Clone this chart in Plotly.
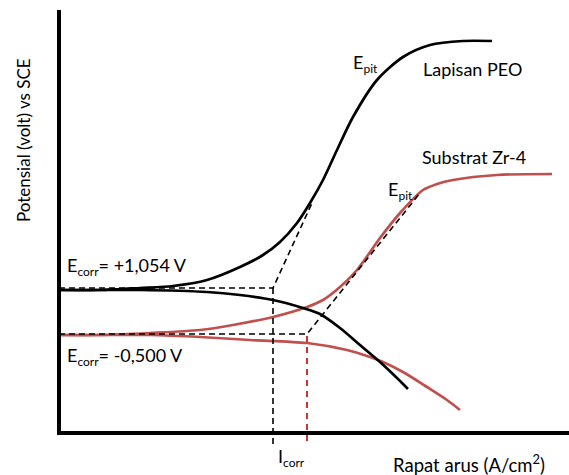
import plotly.graph_objects as go

H = 475
# Curve points (x, potential-pixel from top)
peo_anodic_x = [59, 100, 140, 173, 207, 240, 263, 280, 297, 310, 323, 337, 353, 377, 403, 430, 463, 492]
peo_anodic_y = [290, 290, 288, 286, 280, 267, 255, 242, 223, 203, 180, 150, 117, 80, 57, 45, 41, 41]

peo_cathodic_x = [59, 100, 140, 207, 240, 273, 303, 320, 340, 360, 380, 397, 408]
peo_cathodic_y = [290, 290, 290, 292, 295, 300, 308, 314, 328, 345, 362, 378, 389]

zr_anodic_x = [59, 100, 150, 200, 233, 273, 307, 323, 340, 357, 380, 400, 423, 437, 453, 497, 552]
zr_anodic_y = [335, 335, 333, 330, 325, 317, 307, 300, 287, 270, 238, 213, 190, 184, 180, 175, 174]

zr_cathodic_x = [59, 100, 150, 200, 250, 307, 347, 370, 383, 403, 427, 447, 460]
zr_cathodic_y = [335, 335, 335, 337, 340, 343, 350, 357, 362, 372, 387, 400, 410]

# Tafel extrapolation (dashed) lines
peo_tafel_x = [59, 273, 312]
peo_tafel_y = [288, 288, 203]
peo_icorr_x = [273, 273]
peo_icorr_y = [288, 445]

zr_tafel_x = [59, 307, 420]
zr_tafel_y = [334, 334, 193]
zr_icorr_x = [307, 307]
zr_icorr_y = [336, 445]

BLACK = "#000000"
RED = "#c0504d"
DRED = "#c00000"
FONT = "Lato"

def fy(v):
    return [H - a for a in v]

fig = go.Figure()

def line(x, y, color, width):
    fig.add_trace(go.Scatter(x=x, y=fy(y), mode="lines",
                             line=dict(color=color, width=width, shape="spline", smoothing=0.8),
                             hoverinfo="skip", showlegend=False))

def dline(x, y, color, width, dash):
    fig.add_trace(go.Scatter(x=x, y=fy(y), mode="lines",
                             line=dict(color=color, width=width, dash=dash),
                             hoverinfo="skip", showlegend=False))

line(zr_anodic_x, zr_anodic_y, RED, 2.7)
line(zr_cathodic_x, zr_cathodic_y, RED, 2.7)
line(peo_anodic_x, peo_anodic_y, BLACK, 2.7)
line(peo_cathodic_x, peo_cathodic_y, BLACK, 2.7)
dline(peo_tafel_x, peo_tafel_y, BLACK, 1.6, "6px,4px")
dline(peo_icorr_x, peo_icorr_y, BLACK, 1.6, "6px,4px")
dline(zr_tafel_x, zr_tafel_y, BLACK, 1.6, "6px,4px")
dline(zr_icorr_x, zr_icorr_y, DRED, 1.6, "6px,5px")

# Axis frame
fig.add_shape(type="line", x0=59, x1=59, y0=H - 10, y1=H - 434,
              line=dict(color=BLACK, width=4))
fig.add_shape(type="line", x0=57, x1=569, y0=H - 433, y1=H - 433,
              line=dict(color=BLACK, width=4))

def txt(x, y, s, size=18, anchor="left", angle=0):
    fig.add_annotation(x=x, y=H - y, text=s, showarrow=False, xanchor=anchor,
                       yanchor="middle", textangle=angle,
                       font=dict(family=FONT, size=size, color=BLACK))

sub = "<sub><span style='font-size:12px'>%s</span></sub>"
txt(351, 63, "E" + sub % "pit")
txt(421, 69, "Lapisan PEO")
txt(420, 157, "Substrat Zr-4")
txt(386, 190, "E" + sub % "pit")
txt(65, 266, "E" + sub % "corr" + "= +1,054 V")
txt(65, 356, "E" + sub % "corr" + "= -0,500 V")
txt(276, 457, "I" + sub % "corr")
txt(391, 463, "Rapat arus (A/cm<sup>2</sup>)", size=18.5)
txt(23, 140, "Potensial (volt) vs SCE", size=17, anchor="center", angle=-90)

fig.update_layout(
    width=569, height=475, margin=dict(l=0, r=0, t=0, b=0),
    paper_bgcolor="white", plot_bgcolor="white",
    xaxis=dict(range=[0, 569], visible=False, fixedrange=True),
    yaxis=dict(range=[0, 475], visible=False, fixedrange=True),
)
fig.write_html("out.html")
